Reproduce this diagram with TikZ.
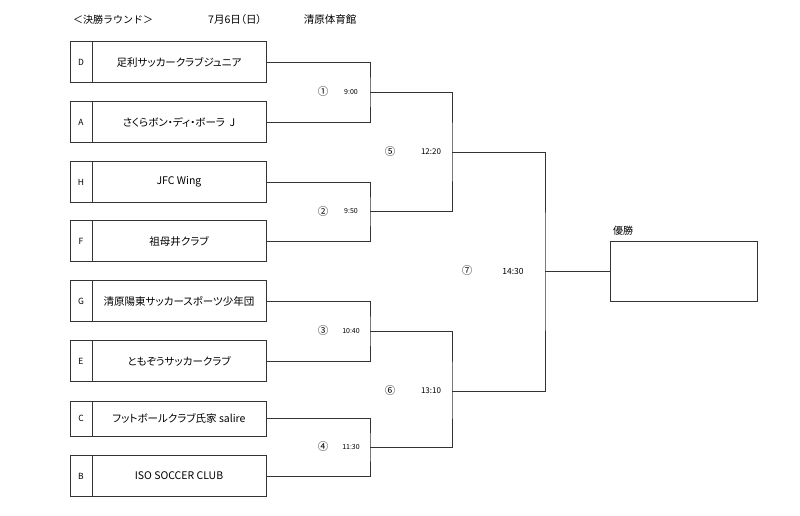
\documentclass[tikz,border=0pt]{standalone}
\usepackage{fontspec}
\setmainfont{Noto Sans CJK JP}[RawFeature=+palt]
\newfontfamily\plainjp{Noto Sans CJK JP}
\usetikzlibrary{positioning}

\begin{document}
\begin{tikzpicture}[x=1pt, y=-1pt,
    line/.style={draw=black!80, line width=0.8pt},
    seed/.style={line, outer sep=0pt, inner sep=0pt, minimum width=22pt,
      minimum height=41pt, font=\fontsize{8.5}{9}\selectfont},
    team/.style={line, outer sep=0pt, inner sep=0pt, minimum width=174pt,
      minimum height=41pt, font=\fontsize{10.5}{12}\selectfont},
    head/.style={inner sep=0pt, font=\plainjp\fontsize{10}{12}\selectfont},
    num/.style={inner sep=0pt, font=\plainjp\fontsize{10.5}{11}\selectfont},
    time/.style={inner sep=0pt, font=\fontsize{7}{8}\selectfont}]
    \useasboundingbox (0,0) rectangle (800,516);
    % header
    \node[head, anchor=west] (title) at (73,20){＜決勝ラウンド＞};
    \node[head, font=\fontsize{10.5}{12}\selectfont] (date) at (235,20){7月6日（日）};
    \node[head, font=\plainjp\fontsize{10.5}{12}\selectfont] (venue) at (330,20){清原体育館};
    % teams
    \node[seed] (sD) at (81,62){D};
    \node[team, right=0pt of sD] (tD){足利サッカークラブジュニア};
    \node[seed] (sA) at (81,122){A};
    \node[team, right=0pt of sA] (tA){さくらボン・ディ・ボーラ\ \ J};
    \node[seed] (sH) at (81,182){H};
    \node[team, right=0pt of sH] (tH){JFC Wing};
    \node[seed] (sF) at (81,241){F};
    \node[team, right=0pt of sF] (tF){祖母井クラブ};
    \node[seed] (sG) at (81,301){G};
    \node[team, right=0pt of sG] (tG){清原陽東サッカースポーツ少年団};
    \node[seed] (sE) at (81,361){E};
    \node[team, right=0pt of sE] (tE){ともぞうサッカークラブ};
    \node[seed, minimum height=35pt] (sC) at (81,418.5){C};
    \node[team, minimum height=35pt, right=0pt of sC] (tC){フットボールクラブ氏家 salire};
    \node[seed] (sB) at (81,476){B};
    \node[team, right=0pt of sB] (tB){ISO SOCCER CLUB};
    % champion
    \node[line, minimum width=147pt, minimum height=60pt] (champ) at (683.5,271){};
    \node[head, anchor=west] (champlabel) at (613,231){優勝};
    % joints
    \coordinate (m1) at (370,92);
    \coordinate (m2) at (370,211.5);
    \coordinate (m3) at (370,331);
    \coordinate (m4) at (370,447);
    \coordinate (m5) at (452,152);
    \coordinate (m6) at (452,391);
    \coordinate (m7) at (545,271);
    % first round
    \draw[line] (tD.east) -| (m1) |- (tA.east);
    \draw[line] (tH.east) -| (m2) |- (tF.east);
    \draw[line] (tG.east) -| (m3) |- (tE.east);
    \draw[line] (tC.east) -| (m4) |- (tB.east);
    % semi finals
    \draw[line] (m1) -| (m5) |- (m2);
    \draw[line] (m3) -| (m6) |- (m4);
    % final
    \draw[line] (m5) -| (m7) |- (m6);
    \draw[line] (m7) -- (champ.west);
    % match labels
    \node[num] (g1) at (323,92){①};
    \node[time] (t1) at (351,92){9:00};
    \node[num] (g2) at (323,211.5){②};
    \node[time] (t2) at (351,211.5){9:50};
    \node[num] (g3) at (323,331){③};
    \node[time] (t3) at (351,331){10:40};
    \node[num] (g4) at (323,447){④};
    \node[time] (t4) at (351,447){11:30};
    \node[num] (g5) at (390,152){⑤};
    \node[time, font=\fontsize{8}{9}\selectfont] (t5) at (431,152){12:20};
    \node[num] (g6) at (390,391){⑥};
    \node[time, font=\fontsize{8}{9}\selectfont] (t6) at (431,391){13:10};
    \node[num] (g7) at (467,271){⑦};
    \node[time, font=\fontsize{8.5}{9}\selectfont] (t7) at (513,271){14:30};
  \end{tikzpicture}
\end{document}
